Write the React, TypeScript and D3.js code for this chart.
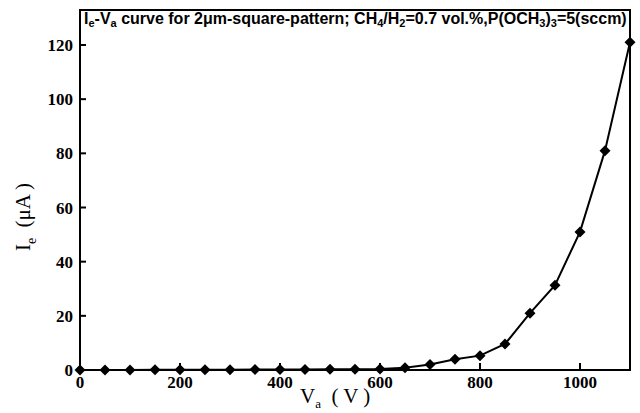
import React from "react";
import * as d3 from "d3";

const voltages = [0, 50, 100, 150, 200, 250, 300, 350, 400, 450, 500, 550, 600, 650, 700, 750, 800, 850, 900, 950, 1000, 1050, 1100];
const currents = [0, 0, 0, 0.1, 0.1, 0.1, 0.1, 0.2, 0.2, 0.2, 0.3, 0.3, 0.4, 0.8, 2, 4, 5.3, 9.6, 21, 31.3, 51, 81, 121];
const xTicks = [0, 200, 400, 600, 800, 1000];
const yTicks = [0, 20, 40, 60, 80, 100, 120];

const W = 640, H = 413;
const L = 80, R = 630, T = 10, B = 370;

export default function App() {
  const x = d3.scaleLinear().domain([0, 1100]).range([L, R]);
  const y = d3.scaleLinear().domain([0, 120]).range([B, 45]);
  const pts = voltages.map((v, i) => [x(v), y(currents[i])] as [number, number]);
  const line = d3.line()(pts) as string;
  const serif = "'Liberation Serif', 'Times New Roman', serif";
  const sans = "'Liberation Sans', Arial, sans-serif";
  return (
    <svg width={W} height={H} style={{ position: "absolute", left: 0, top: 0, background: "#fff" }}>
      <rect x={0} y={0} width={W} height={H} fill="#fff" />
      <rect x={L} y={T} width={R - L} height={B - T} fill="none" stroke="#000" strokeWidth={2} />
      {xTicks.map((t) => (
        <g key={"x" + t}>
          {t > 0 && <line x1={x(t)} x2={x(t)} y1={B} y2={B - 7} stroke="#000" strokeWidth={2} />}
          <text x={x(t)} y={B + 18} textAnchor="middle" fontFamily={serif} fontSize={17} fontWeight="bold">{t}</text>
        </g>
      ))}
      {yTicks.map((t) => (
        <g key={"y" + t}>
          {t > 0 && <line x1={L} x2={L + 6} y1={y(t)} y2={y(t)} stroke="#000" strokeWidth={2} />}
          <text x={L - 7} y={y(t) + 6} textAnchor="end" fontFamily={serif} fontSize={17} fontWeight="bold">{t}</text>
        </g>
      ))}
      <path d={line} fill="none" stroke="#000" strokeWidth={2} />
      {pts.map(([px, py], i) => (
        <path key={i} d={`M${px},${py - 5.5}L${px + 5.5},${py}L${px},${py + 5.5}L${px - 5.5},${py}Z`} fill="#000" />
      ))}
      <text x={84} y={24} fontFamily={sans} fontSize={16} fontWeight="bold">
        I<tspan fontSize={11} dy={3}>e</tspan><tspan dy={-3}>-V</tspan><tspan fontSize={11} dy={3}>a</tspan>
        <tspan dy={-3}> curve for 2μm-square-pattern; CH</tspan><tspan fontSize={11} dy={3}>4</tspan>
        <tspan dy={-3}>/H</tspan><tspan fontSize={11} dy={3}>2</tspan>
        <tspan dy={-3}>=0.7 vol.%,P(OCH</tspan><tspan fontSize={11} dy={3}>3</tspan><tspan dy={-3}>)</tspan>
        <tspan fontSize={11} dy={3}>3</tspan><tspan dy={-3}>=5(sccm)</tspan>
      </text>
      <text transform={`translate(30,217) rotate(-90)`} textAnchor="middle" fontFamily={serif} fontSize={21} style={{ whiteSpace: "pre" }}>
        I<tspan fontSize={14} dy={6}>e</tspan><tspan dy={-6}>{"  (μA )"}</tspan>
      </text>
      <text x={300} y={403} fontFamily={serif} fontSize={21} style={{ whiteSpace: "pre" }}>
        V<tspan fontSize={13} dy={5}>a</tspan><tspan dy={-5}>{"  ( V )"}</tspan>
      </text>
    </svg>
  );
}
